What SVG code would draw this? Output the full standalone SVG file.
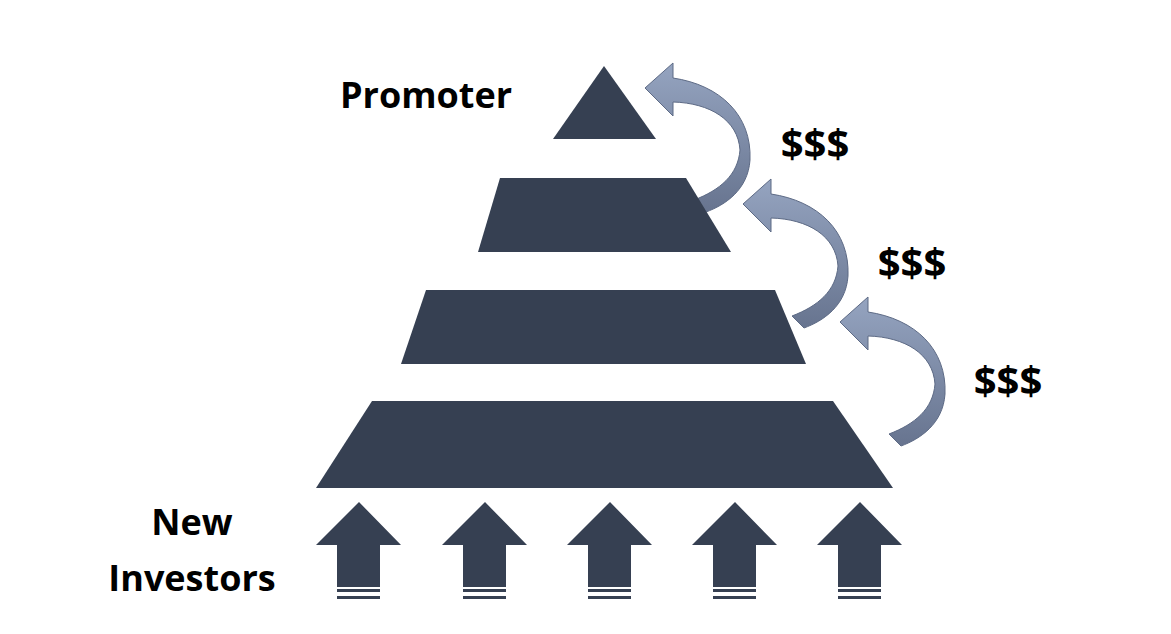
<svg xmlns="http://www.w3.org/2000/svg" width="1171" height="634" viewBox="0 0 1171 634">
<style>
.t{fill:#364052}
.lbl{font-family:"Open Sans","Liberation Sans",sans-serif;font-weight:bold;fill:#000}
.ca{fill:url(#g);stroke:#5d6a85;stroke-width:1}
.s{fill:#364052}
</style>
<defs>
<linearGradient id="g" x1="0" y1="0" x2="0" y2="1">
<stop offset="0" stop-color="#95a4c0"/>
<stop offset="1" stop-color="#67748f"/>
</linearGradient>
<path id="curve" d="M645,88 L673,63 L673,78 C720,85 752,115 750,160 C748,190 725,205 706,212 L694,200 C720,190 738,175 740,150 C738,120 710,103 673,102 L673,116 Z"/>
<g id="up">
<path d="M316,545 L359,502 L401,545 L380,545 L380,587 L337,587 L337,545 Z"/>
<rect x="337" y="589" width="43" height="3"/>
<rect x="337" y="596" width="43" height="3"/>
</g>
</defs>
<rect width="1171" height="634" fill="#fff"/>
<g id="connectors">
<use href="#curve" class="ca"/>
<use href="#curve" class="ca" transform="translate(98,116)"/>
<use href="#curve" class="ca" transform="translate(195,234)"/>
</g>
<g id="tier1"><polygon class="t" points="604,66 656,139 553,139"/></g>
<g id="tier2"><polygon class="t" points="500,178 686,178 731,252 478,252"/></g>
<g id="tier3"><polygon class="t" points="426,290 775,290 806,364 401,364"/></g>
<g id="tier4"><polygon class="t" points="372,401 833,401 893,488 316,488"/></g>
<g id="investors" class="s">
<use href="#up"/>
<use href="#up" transform="translate(126,0)"/>
<use href="#up" transform="translate(251,0)"/>
<use href="#up" transform="translate(376,0)"/>
<use href="#up" transform="translate(501,0)"/>
</g>
<g id="labels">
<text class="lbl" x="426" y="108" font-size="36" text-anchor="middle">Promoter</text>
<text class="lbl" x="815" y="158" font-size="40" text-anchor="middle">$$$</text>
<text class="lbl" x="912" y="277" font-size="40" text-anchor="middle">$$$</text>
<text class="lbl" x="1008" y="395" font-size="40" text-anchor="middle">$$$</text>
<text class="lbl" x="192" y="535" font-size="36" text-anchor="middle">New</text>
<text class="lbl" x="192" y="591" font-size="36" text-anchor="middle">Investors</text>
</g>
</svg>
